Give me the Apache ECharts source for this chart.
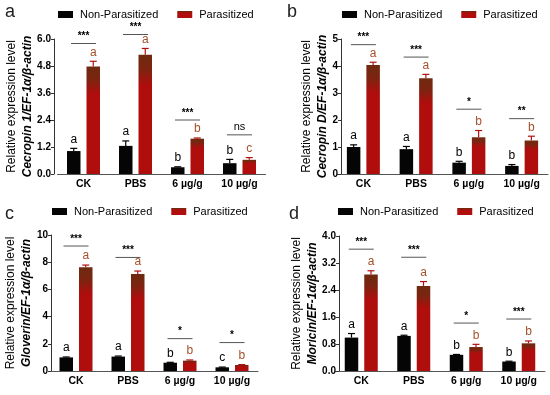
<!DOCTYPE html>
<html><head><meta charset="utf-8">
<script src="https://cdn.jsdelivr.net/npm/echarts@6/dist/echarts.min.js"></script>
<style>html,body{margin:0;padding:0;background:#fff}#c{width:550px;height:395px}</style>
</head><body><div id="c"></div>
<script>
const categories = ['CK', 'PBS', '6 µg/g', '10 µg/g'];
const seriesNames = ['Non-Parasitized', 'Parasitized'];

// Panel a: Cecropin 1
const aNon = [1.02, 1.25, 0.30, 0.48];
const aNonErr = [0.12, 0.22, 0.02, 0.17];
const aPar = [4.78, 5.30, 1.57, 0.63];
const aParErr = [0.23, 0.28, 0.03, 0.10];
const aNonLetters = ['a', 'a', 'b', 'b'];
const aParLetters = ['a', 'a', 'b', 'c'];
const aSig = ['***', '***', '***', 'ns'];
const aSigLevel = [5.8, 6.2, 2.4, 1.74];
const aTicks = [0, 1.2, 2.4, 3.6, 4.8, 6.0];

// Panel b: Cecropin D
const bNon = [1.00, 0.92, 0.42, 0.30];
const bNonErr = [0.08, 0.10, 0.05, 0.05];
const bPar = [4.04, 3.55, 1.36, 1.24];
const bParErr = [0.10, 0.14, 0.25, 0.16];
const bNonLetters = ['a', 'a', 'b', 'b'];
const bParLetters = ['a', 'a', 'b', 'b'];
const bSig = ['***', '***', '*', '**'];
const bSigLevel = [4.79, 4.33, 2.4, 2.05];
const bTicks = [0, 1, 2, 3, 4, 5];

// Panel c: Gloverin
const cNon = [1.00, 1.06, 0.61, 0.27];
const cNonErr = [0.03, 0.04, 0.03, 0.02];
const cPar = [7.62, 7.13, 0.76, 0.44];
const cParErr = [0.17, 0.22, 0.05, 0.03];
const cNonLetters = ['a', 'a', 'b', 'c'];
const cParLetters = ['a', 'a', 'b', 'b'];
const cSig = ['***', '***', '*', '*'];
const cSigLevel = [9.19, 8.35, 2.38, 2.09];
const cTicks = [0, 2, 4, 6, 8, 10];

// Panel d: Moricin
const dNon = [0.99, 1.04, 0.48, 0.28];
const dNonErr = [0.12, 0.02, 0.01, 0.01];
const dPar = [2.86, 2.52, 0.71, 0.82];
const dParErr = [0.11, 0.13, 0.08, 0.07];
const dNonLetters = ['a', 'a', 'b', 'b'];
const dParLetters = ['a', 'a', 'b', 'b'];
const dSig = ['***', '***', '*', '***'];
const dSigLevel = [3.61, 3.37, 1.42, 1.54];
const dTicks = [0, 0.8, 1.6, 2.4, 3.2, 4.0];

const FONT = '"Liberation Sans", Arial, sans-serif';
const BAR_W = 13.5, BAR_GAP = 6;
const OFF = (BAR_W + BAR_GAP) / 2;

const panels = [
  {key: 'a', non: aNon, nonErr: aNonErr, par: aPar, parErr: aParErr, nonL: aNonLetters, parL: aParLetters,
   sig: aSig, sigY: aSigLevel, ticks: aTicks, dec: 1, gene: 'Cecropin 1/EF-1α/β-actin',
   grid: {left: 57.5, top: 39, width: 208, height: 135}, yOff: 3.5, legend: {left: 58, top: 9}, title: {left: 5, top: 3}},
  {key: 'b', non: bNon, nonErr: bNonErr, par: bPar, parErr: bParErr, nonL: bNonLetters, parL: bParLetters,
   sig: bSig, sigY: bSigLevel, ticks: bTicks, dec: 0, gene: 'Cecropin D/EF-1α/β-actin',
   grid: {left: 337, top: 39, width: 211, height: 135}, yOff: -4, legend: {left: 342, top: 9}, title: {left: 287, top: 3}},
  {key: 'c', non: cNon, nonErr: cNonErr, par: cPar, parErr: cParErr, nonL: cNonLetters, parL: cParLetters,
   sig: cSig, sigY: cSigLevel, ticks: cTicks, dec: 0, gene: 'Gloverin/EF-1α/β-actin',
   grid: {left: 50, top: 235, width: 208, height: 136}, yOff: -1, legend: {left: 52, top: 206}, title: {left: 5, top: 205}},
  {key: 'd', non: dNon, nonErr: dNonErr, par: dPar, parErr: dParErr, nonL: dNonLetters, parL: dParLetters,
   sig: dSig, sigY: dSigLevel, ticks: dTicks, dec: 1, gene: 'Moricin/EF-1α/β-actin',
   grid: {left: 335, top: 236, width: 210, height: 135}, yOff: -4, legend: {left: 338, top: 206}, title: {left: 289, top: 205}}
];

const parColor = new echarts.graphic.LinearGradient(0, 0, 0, 1, [
  {offset: 0, color: '#6e2a10'}, {offset: 0.12, color: '#7c2410'},
  {offset: 0.26, color: '#b00d0d'}, {offset: 1, color: '#b00d0d'}
]);

function errRender(offset, color, letters, letterColor) {
  return function (params, api) {
    const c = api.value(0), v = api.value(1), e = api.value(2);
    const base = api.coord([c, v]);
    const top = api.coord([c, v + e]);
    const x = base[0] + offset;
    const cap = 3.5;
    return {type: 'group', children: [
      {type: 'line', shape: {x1: x, y1: base[1], x2: x, y2: top[1]}, style: {stroke: color, lineWidth: 1.2}},
      {type: 'line', shape: {x1: x - cap, y1: top[1], x2: x + cap, y2: top[1]}, style: {stroke: color, lineWidth: 1.2}},
      {type: 'text', x: x, y: top[1] - 3, style: {text: letters[params.dataIndex], fill: letterColor,
        font: '12px ' + FONT, align: 'center', verticalAlign: 'bottom'}}
    ]};
  };
}

function sigRender(texts) {
  return function (params, api) {
    const p = api.coord([api.value(0), api.value(1)]);
    const hw = 12.5;
    const t = texts[params.dataIndex];
    const isNs = t === 'ns';
    return {type: 'group', children: [
      {type: 'line', shape: {x1: p[0] - hw, y1: p[1], x2: p[0] + hw, y2: p[1]}, style: {stroke: '#555', lineWidth: 1}},
      {type: 'text', x: p[0], y: p[1] - 2, style: {text: t, fill: '#000',
        font: (isNs ? '11px ' : 'bold 10px ') + FONT, align: 'center', verticalAlign: 'bottom'}}
    ]};
  };
}

const option = {
  animation: false,
  backgroundColor: '#fff',
  title: panels.map(p => ({text: p.key, left: p.title.left, top: p.title.top, padding: 0,
    textStyle: {fontSize: 18, fontWeight: 'normal', color: '#222', fontFamily: FONT}})),
  legend: panels.map(p => ({left: p.legend.left, top: p.legend.top, width: 260, padding: 0,
    orient: 'horizontal', data: seriesNames, icon: 'rect',
    itemWidth: 15, itemHeight: 7, itemGap: 19, selectedMode: false,
    textStyle: {fontSize: 11, color: '#000', fontFamily: FONT, padding: [0, 0, 0, 2]}})),
  grid: panels.map(p => Object.assign({containLabel: false}, p.grid)),
  xAxis: panels.map((p, i) => ({type: 'category', gridIndex: i, data: categories,
    axisLine: {lineStyle: {color: '#555', width: 1}},
    axisTick: {alignWithLabel: true, length: 3, lineStyle: {color: '#555'}},
    axisLabel: {interval: 0, margin: 5, color: '#000', fontWeight: 'bold', fontSize: 10.5, fontFamily: FONT}})),
  yAxis: panels.map((p, i) => ({type: 'value', gridIndex: i, min: p.ticks[0], max: p.ticks[p.ticks.length - 1],
    interval: p.ticks[1] - p.ticks[0], offset: p.yOff,
    axisLine: {show: true, lineStyle: {color: '#333', width: 1}},
    axisTick: {show: true, length: 3, lineStyle: {color: '#333'}},
    splitLine: {show: false},
    axisLabel: {margin: 3, color: '#000', fontWeight: 'bold', fontSize: 10, fontFamily: FONT,
      formatter: v => v.toFixed(p.dec)},
    name: '{r|Relative expression level}\n{g|' + p.gene + '}',
    nameLocation: 'middle', nameRotate: 90, nameGap: 9,
    nameTextStyle: {rich: {
      r: {fontSize: 12, fontFamily: FONT, color: '#000', lineHeight: 16},
      g: {fontSize: 12, fontFamily: FONT, color: '#000', fontWeight: 'bold', fontStyle: 'italic', lineHeight: 16}
    }}})),
  series: []
};

panels.forEach((p, i) => {
  option.series.push(
    {name: seriesNames[0], type: 'bar', xAxisIndex: i, yAxisIndex: i, data: p.non,
     barWidth: BAR_W, barGap: (BAR_GAP / BAR_W * 100) + '%', itemStyle: {color: '#050505'}},
    {name: seriesNames[1], type: 'bar', xAxisIndex: i, yAxisIndex: i, data: p.par,
     barWidth: BAR_W, barGap: (BAR_GAP / BAR_W * 100) + '%', itemStyle: {color: parColor}},
    {name: 'errNon' + i, type: 'custom', xAxisIndex: i, yAxisIndex: i, z: 5,
     data: p.non.map((v, j) => [j, v, p.nonErr[j]]),
     renderItem: errRender(-OFF, '#000', p.nonL, '#000')},
    {name: 'errPar' + i, type: 'custom', xAxisIndex: i, yAxisIndex: i, z: 5,
     data: p.par.map((v, j) => [j, v, p.parErr[j]]),
     renderItem: errRender(OFF, '#b01010', p.parL, '#a5502a')},
    {name: 'sig' + i, type: 'custom', xAxisIndex: i, yAxisIndex: i, z: 5, clip: false,
     data: p.sigY.map((v, j) => [j, v]),
     renderItem: sigRender(p.sig)}
  );
});

const chart = echarts.init(document.getElementById('c'), null, {renderer: 'canvas'});
chart.setOption(option);
</script>
</body></html>
